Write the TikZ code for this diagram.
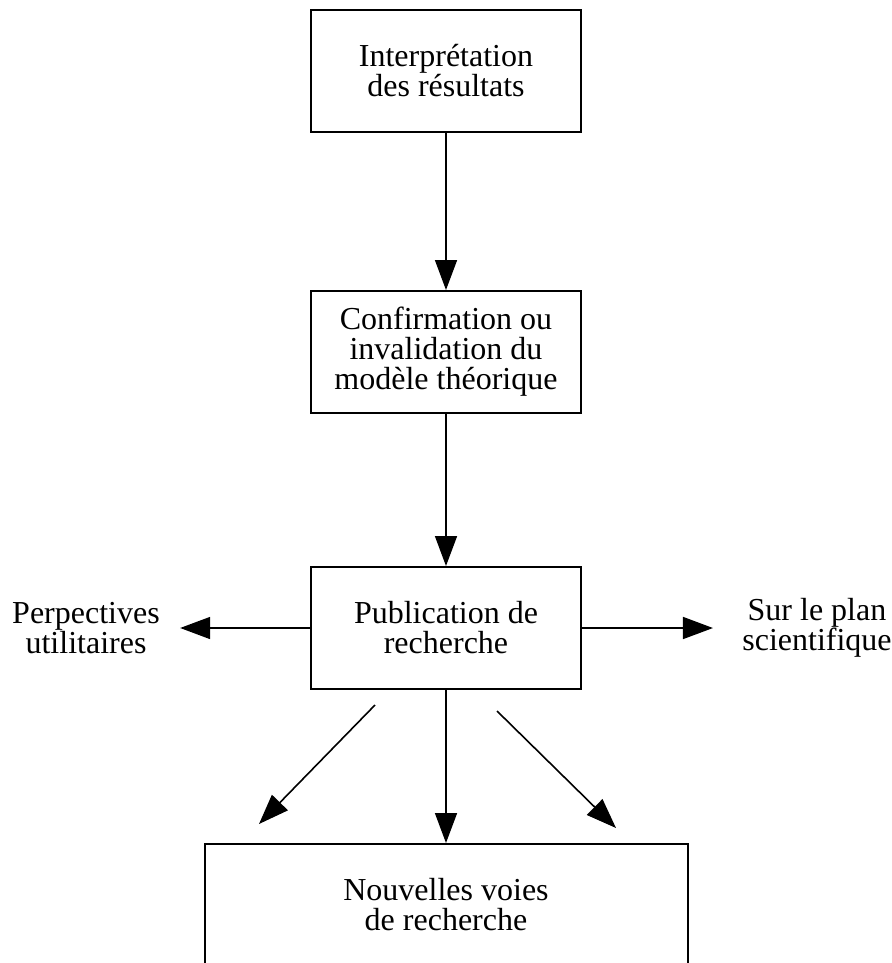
\documentclass[tikz,border=0pt]{standalone}
\usepackage{fontspec}
\setmainfont{Liberation Serif}
\usetikzlibrary{arrows.meta}

\begin{document}
\begin{tikzpicture}[x=0.5pt,y=-0.5pt,
	box/.style={draw,line width=1pt,minimum width=135pt,minimum height=61pt,align=center,inner sep=0pt,font=\fontsize{16}{15}\selectfont},
	lbl/.style={align=center,inner sep=0pt,font=\fontsize{16}{15}\selectfont},
	fl/.style={-{Triangle[width=11pt,length=15pt]},line width=0.8pt}]
	\useasboundingbox (0,0) rectangle (891,963);
	\node[box] (interp) at (446,71) {Interprétation\\des résultats};
	\node[box] (confirm) at (446,352) {Confirmation ou\\invalidation du\\modèle théorique};
	\node[box] (public) at (446,628) {Publication de\\recherche};
	\node[box,minimum width=241.5pt] (voies) at (446,905) {Nouvelles voies\\de recherche};
	\node[lbl] (persp) at (86,628) {Perpectives\\utilitaires};
	\node[lbl] (scient) at (817,628) {Sur le plan\\scientifique};
	\coordinate (g1) at (375,705);
	\coordinate (g2) at (259,824);
	\coordinate (d1) at (497,711);
	\coordinate (d2) at (616,828);
	\draw[fl] (interp) -- (confirm);
	\draw[fl] (confirm) -- (public);
	\draw[fl,shorten >=10pt] (public) -- (persp);
	\draw[fl,shorten >=14.5pt] (public) -- (scient);
	\draw[fl] (public) -- (voies);
	\draw[fl] (g1) -- (g2);
	\draw[fl] (d1) -- (d2);
\end{tikzpicture}
\end{document}
